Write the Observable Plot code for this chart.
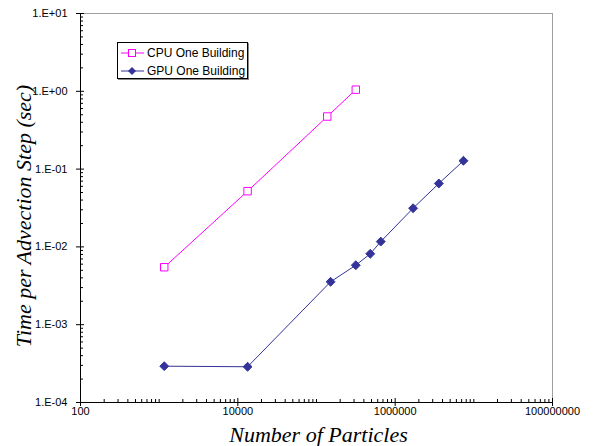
<!DOCTYPE html>
<html><head><meta charset="utf-8">
<script src="https://cdn.jsdelivr.net/npm/d3@7"></script>
<script src="https://cdn.jsdelivr.net/npm/@observablehq/plot@0.6"></script>
<style>
body{margin:0;background:#fff;}
#wrap{position:relative;width:612px;height:446px;}
#legend{position:absolute;left:117px;top:42px;width:129px;height:35px;border:1px solid #000;background:#fff;font:12px "Liberation Sans",Arial,sans-serif;color:#000;box-shadow:1px 1px 0 #888;}
.row{position:absolute;left:3px;height:14px;display:flex;align-items:center;white-space:nowrap;}
.row svg{margin-right:3px;}
</style></head><body><div id="wrap"></div>
<script>
// ---- data ----
const seriesNames = ["CPU One Building", "GPU One Building"];
const cpuParticles = [1160, 13300, 137000, 316000];
const cpuTime = [0.00548, 0.052, 0.474, 1.05];
const gpuParticles = [1160, 13300, 151000, 316000, 482000, 656000, 1690000, 3590000, 7380000];
const gpuTime = [0.000293, 0.000288, 0.00356, 0.00582, 0.00815, 0.0117, 0.0314, 0.0653, 0.128];
const xTicks = [100, 10000, 1000000, 100000000];
const xTickLabels = ["100", "10000", "1000000", "100000000"];
const yTicks = [1e-4, 1e-3, 1e-2, 1e-1, 1, 10];
const yTickLabels = ["1.E-04", "1.E-03", "1.E-02", "1.E-01", "1.E+00", "1.E+01"];
const xTitle = "Number of Particles";
const yTitle = "Time per Advection Step (sec)";
const colors = ["#FF00FF", "#333399"];

const cpu = cpuParticles.map((x, i) => ({x, y: cpuTime[i]}));
const gpu = gpuParticles.map((x, i) => ({x, y: gpuTime[i]}));

// minor ticks
const xMinor = [];
for (let d = 2; d < 8; d++) for (let k = 1; k <= 9; k++) { const v = k * 10 ** d; if (!(k === 1 && d % 2 === 0)) xMinor.push(v); }
const yMinor = [];
for (let d = -4; d < 1; d++) for (let k = 2; k <= 9; k++) yMinor.push(k * 10 ** d);

const W = 612, H = 446, mL = 80, mR = 60, mT = 13, mB = 44;
const fw = W - mL - mR, fh = H - mT - mB;
const sans = "Liberation Sans, Arial, sans-serif";
const serif = "Liberation Serif, Times New Roman, serif";

const chart = Plot.plot({
  width: W, height: H,
  marginLeft: mL, marginRight: mR, marginTop: mT, marginBottom: mB,
  style: {fontFamily: sans, fontSize: "11px", color: "#000", background: "#fff"},
  x: {type: "log", domain: [100, 1e8]},
  y: {type: "log", domain: [1e-4, 10]},
  marks: [
    Plot.ruleY([10], {stroke: "#a0a0a0"}),
    Plot.ruleX([1e8], {stroke: "#a0a0a0"}),
    Plot.tickX(xMinor, {x: d => d, insetTop: fh - 3, stroke: "#000"}),
    Plot.tickX(xTicks, {x: d => d, insetTop: fh - 4, stroke: "#000"}),
    Plot.tickY(yMinor, {y: d => d, insetRight: fw - 3, stroke: "#000"}),
    Plot.tickY(yTicks, {y: d => d, insetRight: fw - 4, stroke: "#000"}),
    Plot.axisX(xTicks, {tickFormat: d => xTickLabels[xTicks.indexOf(d)], tickSize: 4, tickPadding: 1, label: null, fontSize: 11}),
    Plot.axisY(yTicks, {tickFormat: d => yTickLabels[yTicks.indexOf(d)], tickSize: 4, tickPadding: 9, label: null, fontSize: 11}),
    Plot.ruleX([100], {stroke: "#000"}),
    Plot.ruleY([1e-4], {stroke: "#000"}),
    Plot.line(cpu, {x: "x", y: "y", stroke: colors[0], strokeWidth: 1}),
    Plot.line(gpu, {x: "x", y: "y", stroke: colors[1], strokeWidth: 1}),
    Plot.dot(cpu, {x: "x", y: "y", symbol: "square", r: 4.2, stroke: colors[0], fill: "white", strokeWidth: 1}),
    Plot.dot(gpu, {x: "x", y: "y", symbol: "diamond2", r: 4, stroke: colors[1], fill: colors[1], strokeWidth: 1}),
    Plot.text([yTitle], {text: d => d, frameAnchor: "left", textAnchor: "middle", lineAnchor: "middle", dx: -57, dy: 8, rotate: -90, fontSize: 22, fontFamily: serif, fontStyle: "italic", fill: "#000"}),
    Plot.text([xTitle], {text: d => d, frameAnchor: "bottom", textAnchor: "middle", lineAnchor: "middle", dx: 2, dy: 32, fontSize: 22, fontFamily: serif, fontStyle: "italic", fill: "#000"})
  ]
});
const wrap = document.getElementById("wrap");
wrap.appendChild(chart);

// legend
const leg = document.createElement("div");
leg.id = "legend";
const icons = [
  `<svg width="23" height="12"><line x1="0" y1="6" x2="23" y2="6" stroke="${colors[0]}"/><rect x="7.5" y="2.5" width="7" height="7" fill="white" stroke="${colors[0]}"/></svg>`,
  `<svg width="23" height="12"><line x1="0" y1="6" x2="23" y2="6" stroke="${colors[1]}"/><path d="M11,2 L15,6 L11,10 L7,6 Z" fill="${colors[1]}"/></svg>`
];
seriesNames.forEach((name, i) => {
  const r = document.createElement("div");
  r.className = "row";
  r.style.top = (3 + i * 18) + "px";
  r.innerHTML = icons[i] + `<span>${name}</span>`;
  leg.appendChild(r);
});
wrap.appendChild(leg);
</script></body></html>
